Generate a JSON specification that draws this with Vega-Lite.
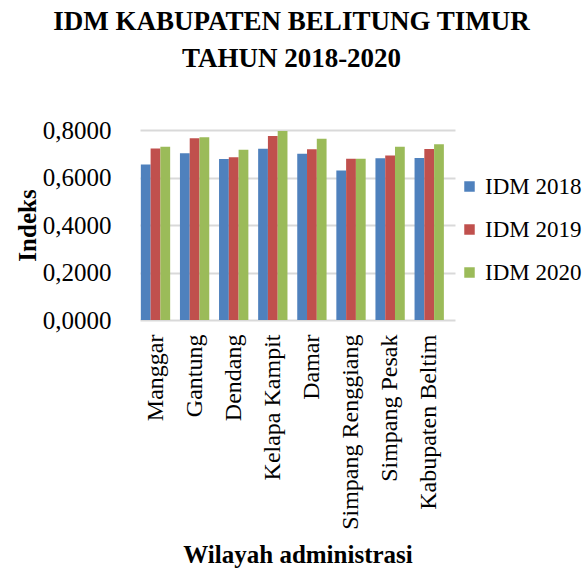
{
  "$schema": "https://vega.github.io/schema/vega-lite/v6.json",
  "autosize": {"type": "none"},
  "padding": {"left": 140, "top": 130, "right": 130, "bottom": 252},
  "width": 315,
  "height": 190,
  "background": "white",
  "title": {
    "text": ["IDM KABUPATEN BELITUNG TIMUR", "TAHUN 2018-2020"],
    "font": "Liberation Serif",
    "fontSize": 27,
    "fontWeight": "bold",
    "color": "#000000",
    "lineHeight": 37,
    "offset": 45,
    "anchor": "middle",
    "frame": "group",
    "dx": -6
  },
  "data": {
    "values": [
      {"wilayah": "Manggar", "seri": "IDM 2018", "nilai": 0.655},
      {"wilayah": "Manggar", "seri": "IDM 2019", "nilai": 0.722},
      {"wilayah": "Manggar", "seri": "IDM 2020", "nilai": 0.730},
      {"wilayah": "Gantung", "seri": "IDM 2018", "nilai": 0.702},
      {"wilayah": "Gantung", "seri": "IDM 2019", "nilai": 0.765},
      {"wilayah": "Gantung", "seri": "IDM 2020", "nilai": 0.769},
      {"wilayah": "Dendang", "seri": "IDM 2018", "nilai": 0.678},
      {"wilayah": "Dendang", "seri": "IDM 2019", "nilai": 0.685},
      {"wilayah": "Dendang", "seri": "IDM 2020", "nilai": 0.717},
      {"wilayah": "Kelapa Kampit", "seri": "IDM 2018", "nilai": 0.721},
      {"wilayah": "Kelapa Kampit", "seri": "IDM 2019", "nilai": 0.775},
      {"wilayah": "Kelapa Kampit", "seri": "IDM 2020", "nilai": 0.796},
      {"wilayah": "Damar", "seri": "IDM 2018", "nilai": 0.700},
      {"wilayah": "Damar", "seri": "IDM 2019", "nilai": 0.719},
      {"wilayah": "Damar", "seri": "IDM 2020", "nilai": 0.763},
      {"wilayah": "Simpang Renggiang", "seri": "IDM 2018", "nilai": 0.629},
      {"wilayah": "Simpang Renggiang", "seri": "IDM 2019", "nilai": 0.679},
      {"wilayah": "Simpang Renggiang", "seri": "IDM 2020", "nilai": 0.679},
      {"wilayah": "Simpang Pesak", "seri": "IDM 2018", "nilai": 0.681},
      {"wilayah": "Simpang Pesak", "seri": "IDM 2019", "nilai": 0.693},
      {"wilayah": "Simpang Pesak", "seri": "IDM 2020", "nilai": 0.730},
      {"wilayah": "Kabupaten Beltim", "seri": "IDM 2018", "nilai": 0.682},
      {"wilayah": "Kabupaten Beltim", "seri": "IDM 2019", "nilai": 0.720},
      {"wilayah": "Kabupaten Beltim", "seri": "IDM 2020", "nilai": 0.740}
    ]
  },
  "mark": {"type": "bar", "stroke": null},
  "encoding": {
    "x": {
      "field": "wilayah",
      "type": "nominal",
      "sort": null,
      "scale": {"paddingInner": 0.25, "paddingOuter": 0.153, "align": 0.07},
      "axis": {
        "title": "Wilayah administrasi",
        "titleFont": "Liberation Serif",
        "titleFontSize": 25,
        "titleFontWeight": "bold",
        "titleColor": "#000000",
        "titlePadding": 22,
        "labelFont": "Liberation Serif",
        "labelFontSize": 24,
        "labelColor": "#000000",
        "labelAngle": -90,
        "labelPadding": 14,
        "labelLimit": 0,
        "domain": false,
        "ticks": false
      }
    },
    "xOffset": {"field": "seri", "type": "nominal", "scale": {"paddingInner": 0}},
    "y": {
      "field": "nilai",
      "type": "quantitative",
      "scale": {"domain": [0, 0.8]},
      "axis": {
        "title": "Indeks",
        "titleFont": "Liberation Serif",
        "titleFontSize": 25,
        "titleFontWeight": "bold",
        "titleColor": "#000000",
        "titlePadding": 2,
        "values": [0, 0.2, 0.4, 0.6, 0.8],
        "labelExpr": "replace(format(datum.value, '.4f'), '.', ',')",
        "labelFont": "Liberation Serif",
        "labelFontSize": 25,
        "labelColor": "#000000",
        "labelPadding": 29,
        "domain": false,
        "ticks": false,
        "gridColor": "#d9d9d9",
        "gridWidth": 2
      }
    },
    "color": {
      "field": "seri",
      "type": "nominal",
      "scale": {"range": ["#4F81BD", "#C0504D", "#9BBB59"]},
      "legend": {
        "title": null,
        "orient": "none",
        "legendX": 318,
        "legendY": 45,
        "symbolType": "square",
        "symbolSize": 110,
        "symbolStrokeWidth": 0,
        "labelFont": "Liberation Serif",
        "labelFontSize": 23,
        "labelColor": "#000000",
        "labelOffset": 4,
        "rowPadding": 19
      }
    }
  },
  "config": {"view": {"stroke": null}}
}
